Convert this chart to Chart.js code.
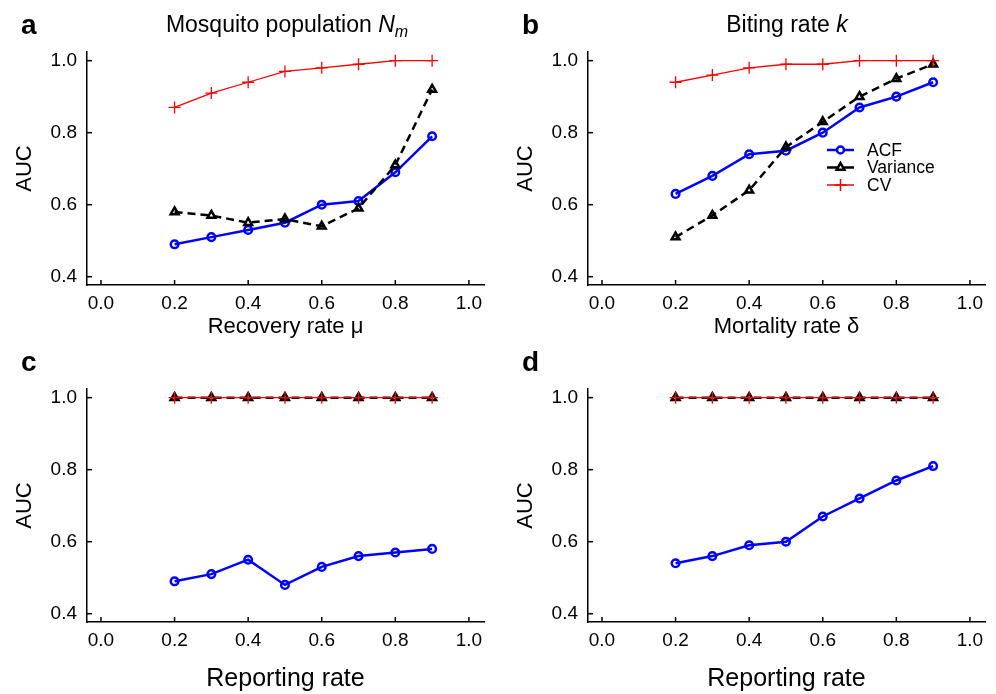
<!DOCTYPE html>
<html>
<head>
<meta charset="utf-8">
<script src="https://cdn.jsdelivr.net/npm/chart.js@4.4.1/dist/chart.umd.min.js"></script>
<style>
body { margin:0; background:#fff; width:996px; height:694px; position:relative; overflow:hidden; }
canvas { position:absolute; }
</style>
</head>
<body>
<canvas id="ca" width="495" height="357" style="left:0;top:0"></canvas>
<canvas id="cb" width="495" height="357" style="left:501px;top:0"></canvas>
<canvas id="cc" width="495" height="357" style="left:0;top:337px"></canvas>
<canvas id="cd" width="495" height="357" style="left:501px;top:337px"></canvas>
<script>
// x positions shared by all panels
var xVals = [0.2, 0.3, 0.4, 0.5, 0.6, 0.7, 0.8, 0.9];
var xTicks = [0.0, 0.2, 0.4, 0.6, 0.8, 1.0];
var yTicks = [0.4, 0.6, 0.8, 1.0];

// a - mosquito population
var acfA = [0.49, 0.51, 0.53, 0.55, 0.60, 0.61, 0.69, 0.79];
var varA = [0.58, 0.57, 0.55, 0.56, 0.54, 0.59, 0.71, 0.92];
var cvA  = [0.87, 0.91, 0.94, 0.97, 0.98, 0.99, 1.00, 1.00];
// b - biting rate
var acfB = [0.63, 0.68, 0.74, 0.75, 0.80, 0.87, 0.90, 0.94];
var varB = [0.51, 0.57, 0.64, 0.76, 0.83, 0.90, 0.95, 0.99];
var cvB  = [0.94, 0.96, 0.98, 0.99, 0.99, 1.00, 1.00, 1.00];
// c
var acfC = [0.49, 0.51, 0.55, 0.48, 0.53, 0.56, 0.57, 0.58];
var varC = [1.00, 1.00, 1.00, 1.00, 1.00, 1.00, 1.00, 1.00];
var cvC  = [1.00, 1.00, 1.00, 1.00, 1.00, 1.00, 1.00, 1.00];
// d
var acfD = [0.54, 0.56, 0.59, 0.60, 0.67, 0.72, 0.77, 0.81];
var varD = [1.00, 1.00, 1.00, 1.00, 1.00, 1.00, 1.00, 1.00];
var cvD  = [1.00, 1.00, 1.00, 1.00, 1.00, 1.00, 1.00, 1.00];

var FONT = "'Liberation Sans', Arial, Helvetica, sans-serif";
var BLUE = '#0000ff', RED = '#ff0000';

function pts(arr) {
	return arr.map(function(v, i) { return {x: xVals[i], y: v}; });
}

// letter, title, inward ticks, legend
var panelPlugin = {
	id: 'panel',
	afterDraw: function(chart, args, o) {
		var ctx = chart.ctx, xs = chart.scales.x, ys = chart.scales.y, a = chart.chartArea;
		ctx.save();
		ctx.strokeStyle = '#000';
		ctx.lineWidth = 1.5;
		xTicks.forEach(function(v) {
			var px = xs.getPixelForValue(v);
			ctx.beginPath(); ctx.moveTo(px, a.bottom); ctx.lineTo(px, a.bottom - 5); ctx.stroke();
		});
		yTicks.forEach(function(v) {
			var py = ys.getPixelForValue(v);
			ctx.beginPath(); ctx.moveTo(a.left, py); ctx.lineTo(a.left + 5, py); ctx.stroke();
		});

		ctx.fillStyle = '#000';
		ctx.textBaseline = 'middle';
		ctx.textAlign = 'left';
		ctx.font = 'bold 28px ' + FONT;
		ctx.fillText(o.letter, o.letterX, 26);

		if (o.title) {
			var w = 0;
			o.title.forEach(function(p) {
				ctx.font = (p.it ? 'italic ' : '') + (p.sub ? '16px ' : '23px ') + FONT;
				w += ctx.measureText(p.t).width;
			});
			var x = o.titleX - w / 2;
			o.title.forEach(function(p) {
				ctx.font = (p.it ? 'italic ' : '') + (p.sub ? '16px ' : '23px ') + FONT;
				ctx.textBaseline = 'alphabetic';
				ctx.fillText(p.t, x, p.sub ? 37 : 32);
				x += ctx.measureText(p.t).width;
			});
		}

		if (o.legend) {
			var rows = [
				{label: 'ACF', color: BLUE, lw: 2.5, style: 'circle', r: 3.5},
				{label: 'Variance', color: '#000', lw: 2.5, style: 'triangle', r: 4.5},
				{label: 'CV', color: RED, lw: 1.5, style: 'cross', r: 6}
			];
			rows.forEach(function(r, i) {
				var y = 150 + i * 17.5;
				ctx.strokeStyle = r.color;
				ctx.lineWidth = r.lw;
				ctx.beginPath(); ctx.moveTo(326, y); ctx.lineTo(353, y); ctx.stroke();
				ctx.lineWidth = r.style === 'cross' ? 1.5 : 2.5;
				ctx.fillStyle = r.style === 'cross' ? RED : '#fff';
				Chart.helpers.drawPoint(ctx, {pointStyle: r.style, radius: r.r, rotation: 0, borderWidth: ctx.lineWidth}, 339.5, y);
				ctx.fillStyle = '#000';
				ctx.font = '17.5px ' + FONT;
				ctx.textBaseline = 'middle';
				ctx.fillText(r.label, 366, y + 1);
			});
		}
		ctx.restore();
	}
};

function makeChart(id, acf, vr, cv, xTitle, xTitleSize, xTitlePad, panel) {
	return new Chart(document.getElementById(id), {
		type: 'line',
		data: {
			datasets: [
				{
					label: 'CV', data: pts(cv), order: 0,
					borderColor: RED, borderWidth: 1.3,
					pointStyle: 'cross', pointRadius: 6, pointBorderWidth: 1.3,
					pointBorderColor: RED, pointBackgroundColor: RED
				},
				{
					label: 'Variance', data: pts(vr), order: 1,
					borderColor: '#000', borderWidth: 2.5, borderDash: [8, 5],
					pointStyle: 'triangle', pointRadius: 4.5, pointBorderWidth: 2.5,
					pointBorderColor: '#000', pointBackgroundColor: 'rgba(255,255,255,0)'
				},
				{
					label: 'ACF', data: pts(acf), order: 2,
					borderColor: BLUE, borderWidth: 2.5,
					pointStyle: 'circle', pointRadius: 3.8, pointBorderWidth: 2.5,
					pointBorderColor: BLUE, pointBackgroundColor: 'rgba(255,255,255,0)'
				}
			]
		},
		options: {
			responsive: false,
			animation: false,
			layout: { padding: { left: 0, top: 52, right: 11, bottom: 0 } },
			plugins: {
				legend: { display: false },
				tooltip: { enabled: false },
				panel: panel
			},
			scales: {
				x: {
					type: 'linear', min: -0.038, max: 1.041,
					afterBuildTicks: function(s) { s.ticks = xTicks.map(function(v) { return {value: v}; }); },
					afterFit: function(s) { s.height = 72; },
					grid: { display: false, drawTicks: false },
					border: { display: true, color: '#000', width: 1.5 },
					ticks: {
						color: '#000', padding: 7, maxRotation: 0,
						font: { family: FONT, size: 19 },
						callback: function(v) { return v.toFixed(1); }
					},
					title: {
						display: true, text: xTitle, color: '#000',
						font: { family: FONT, size: xTitleSize },
						padding: { top: 0, bottom: xTitlePad }
					}
				},
				y: {
					type: 'linear', min: 0.377, max: 1.024,
					afterBuildTicks: function(s) { s.ticks = yTicks.map(function(v) { return {value: v}; }); },
					afterFit: function(s) { s.width = 87; },
					grid: { display: false, drawTicks: false },
					border: { display: true, color: '#000', width: 1.5 },
					ticks: {
						color: '#000', padding: 10,
						font: { family: FONT, size: 19 },
						callback: function(v) { return v.toFixed(1); }
					},
					title: {
						display: true, text: 'AUC', color: '#000',
						font: { family: FONT, size: 22 },
						padding: { top: 12, bottom: 0 }
					}
				}
			}
		},
		plugins: [panelPlugin]
	});
}

makeChart('ca', acfA, varA, cvA, 'Recovery rate \u03bc', 22, 17, {
	letter: 'a', letterX: 21, titleX: 287,
	title: [{t: 'Mosquito population '}, {t: 'N', it: true}, {t: 'm', it: true, sub: true}]
});
makeChart('cb', acfB, varB, cvB, 'Mortality rate \u03b4', 22, 17, {
	letter: 'b', letterX: 21, titleX: 286,
	title: [{t: 'Biting rate '}, {t: 'k', it: true}], legend: true
});
makeChart('cc', acfC, varC, cvC, 'Reporting rate', 25, 0, {
	letter: 'c', letterX: 21
});
makeChart('cd', acfD, varD, cvD, 'Reporting rate', 25, 0, {
	letter: 'd', letterX: 21
});
</script>
</body>
</html>
